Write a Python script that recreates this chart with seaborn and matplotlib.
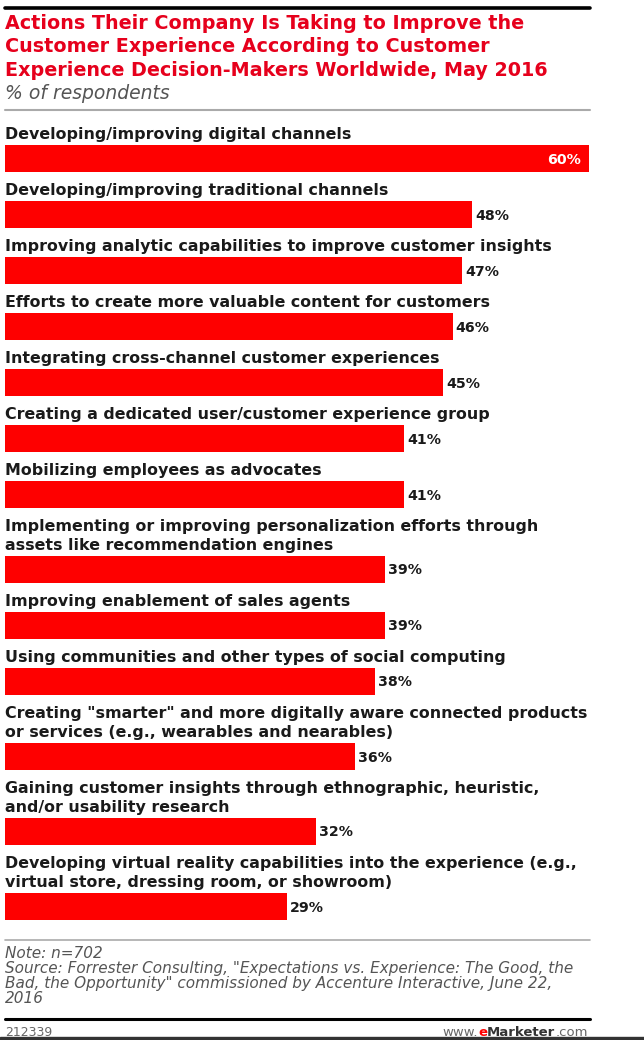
import numpy as np
import pandas as pd
import matplotlib
matplotlib.use('Agg')
import matplotlib.pyplot as plt
import seaborn as sns

# dados do grafico
acoes = [
    "Developing/improving digital channels",
    "Developing/improving traditional channels",
    "Improving analytic capabilities to improve customer insights",
    "Efforts to create more valuable content for customers",
    "Integrating cross-channel customer experiences",
    "Creating a dedicated user/customer experience group",
    "Mobilizing employees as advocates",
    "Implementing or improving personalization efforts through\nassets like recommendation engines",
    "Improving enablement of sales agents",
    "Using communities and other types of social computing",
    "Creating \"smarter\" and more digitally aware connected products\nor services (e.g., wearables and nearables)",
    "Gaining customer insights through ethnographic, heuristic,\nand/or usability research",
    "Developing virtual reality capabilities into the experience (e.g.,\nvirtual store, dressing room, or showroom)",
]
percentuais = [60, 48, 47, 46, 45, 41, 41, 39, 39, 38, 36, 32, 29]

titulo = ("Actions Their Company Is Taking to Improve the\n"
          "Customer Experience According to Customer\n"
          "Experience Decision-Makers Worldwide, May 2016")
subtitulo = "% of respondents"
nota = "Note: n=702"
fonte = ("Source: Forrester Consulting, \"Expectations vs. Experience: The Good, the\n"
         "Bad, the Opportunity\" commissioned by Accenture Interactive, June 22,\n"
         "2016")
codigo = "212339"

VERMELHO = '#fe0000'
VERMELHO_TIT = '#e6001c'

# layout em pixels (figura 644x1040)
W, H = 644, 1040
topo_barra = []
y = 145
for i, a in enumerate(acoes):
    if i > 0:
        y += 56 + 19 * (a.count('\n'))
    topo_barra.append(y)
altura = 27
centros = [t + altura / 2 for t in topo_barra]

df = pd.DataFrame({'acao': acoes, 'pct': percentuais, 'pos': centros})

sns.set_theme(style='white')
plt.rcParams['font.family'] = ['DejaVu Sans']

fig = plt.figure(figsize=(W / 100, H / 100), dpi=100)
fig.patch.set_facecolor('white')

# eixo das barras: x de 5 a 589 px -> 0 a 60%, y em pixels
ax = fig.add_axes([5 / W, 0, 584 / W, 1])
sns.barplot(data=df, x='pct', y='pos', orient='h', native_scale=True,
            color=VERMELHO, saturation=1, width=altura / 56, ax=ax,
            edgecolor='none', linewidth=0)
ax.set_xlim(0, 60)
ax.set_ylim(H, 0)
ax.axis('off')

for acao, v, t in zip(acoes, percentuais, topo_barra):
    linhas = acao.split('\n')
    for k, ln in enumerate(reversed(linhas)):
        ax.text(0, t - 6 - 19 * k, ln, ha='left', va='baseline',
                fontsize=11.4, fontweight='bold', color='#1a1a1a')
    if v == max(percentuais):
        ax.text(v - 0.8, t + altura / 2 + 1, f"{v}%", ha='right', va='center',
                fontsize=10.2, fontweight='bold', color='white')
    else:
        ax.text(v + 0.3, t + altura / 2 + 1, f"{v}%", ha='left', va='center',
                fontsize=10.2, fontweight='bold', color='#1a1a1a')

# linhas horizontais
def linha(yp, cor, lw, x0=5, x1=590):
    fig.add_artist(plt.Line2D([x0 / W, x1 / W], [1 - yp / H, 1 - yp / H],
                              color=cor, linewidth=lw))

linha(8, 'black', 2.6)
linha(110, '#aaaaaa', 1.5)
linha(940, '#aaaaaa', 1.2)
linha(1019, 'black', 2.2)
fig.add_artist(plt.Rectangle((0, 0), 1, 3 / H, color='#333333',
                             transform=fig.transFigure))

# titulo e subtitulo
for k, ln in enumerate(titulo.split('\n')):
    fig.text(5 / W, 1 - (29 + 23.5 * k) / H, ln, ha='left', va='baseline',
             fontsize=13.8, fontweight='bold', color=VERMELHO_TIT)
fig.text(5 / W, 1 - 99 / H, subtitulo, ha='left', va='baseline',
         fontsize=13.5, style='italic', color='#555555')

# rodape
fig.text(5 / W, 1 - 958 / H, nota, ha='left', va='baseline',
         fontsize=11, style='italic', color='#555555')
for k, ln in enumerate(fonte.split('\n')):
    fig.text(5 / W, 1 - (973 + 14.8 * k) / H, ln, ha='left', va='baseline',
             fontsize=11, style='italic', color='#555555')
fig.text(5 / W, 1 - 1036 / H, codigo, ha='left', va='baseline',
         fontsize=9, color='#666666')

# www.eMarketer.com
t1 = fig.text(588 / W, 1 - 1036 / H, ".com", ha='right', va='baseline',
              fontsize=9.5, color='#666666')
fig.canvas.draw()
r = fig.canvas.get_renderer()
bb = t1.get_window_extent(r)
t2 = fig.text(bb.x0 / W, 1 - 1036 / H, "Marketer", ha='right', va='baseline',
              fontsize=9.5, fontweight='bold', color='#333333')
bb = t2.get_window_extent(r)
t3 = fig.text(bb.x0 / W, 1 - 1036 / H, "e", ha='right', va='baseline',
              fontsize=9.5, fontweight='bold', color=VERMELHO)
bb = t3.get_window_extent(r)
fig.text(bb.x0 / W, 1 - 1036 / H, "www.", ha='right', va='baseline',
         fontsize=9.5, color='#666666')

plt.savefig('out.png', dpi=100, facecolor='white')
